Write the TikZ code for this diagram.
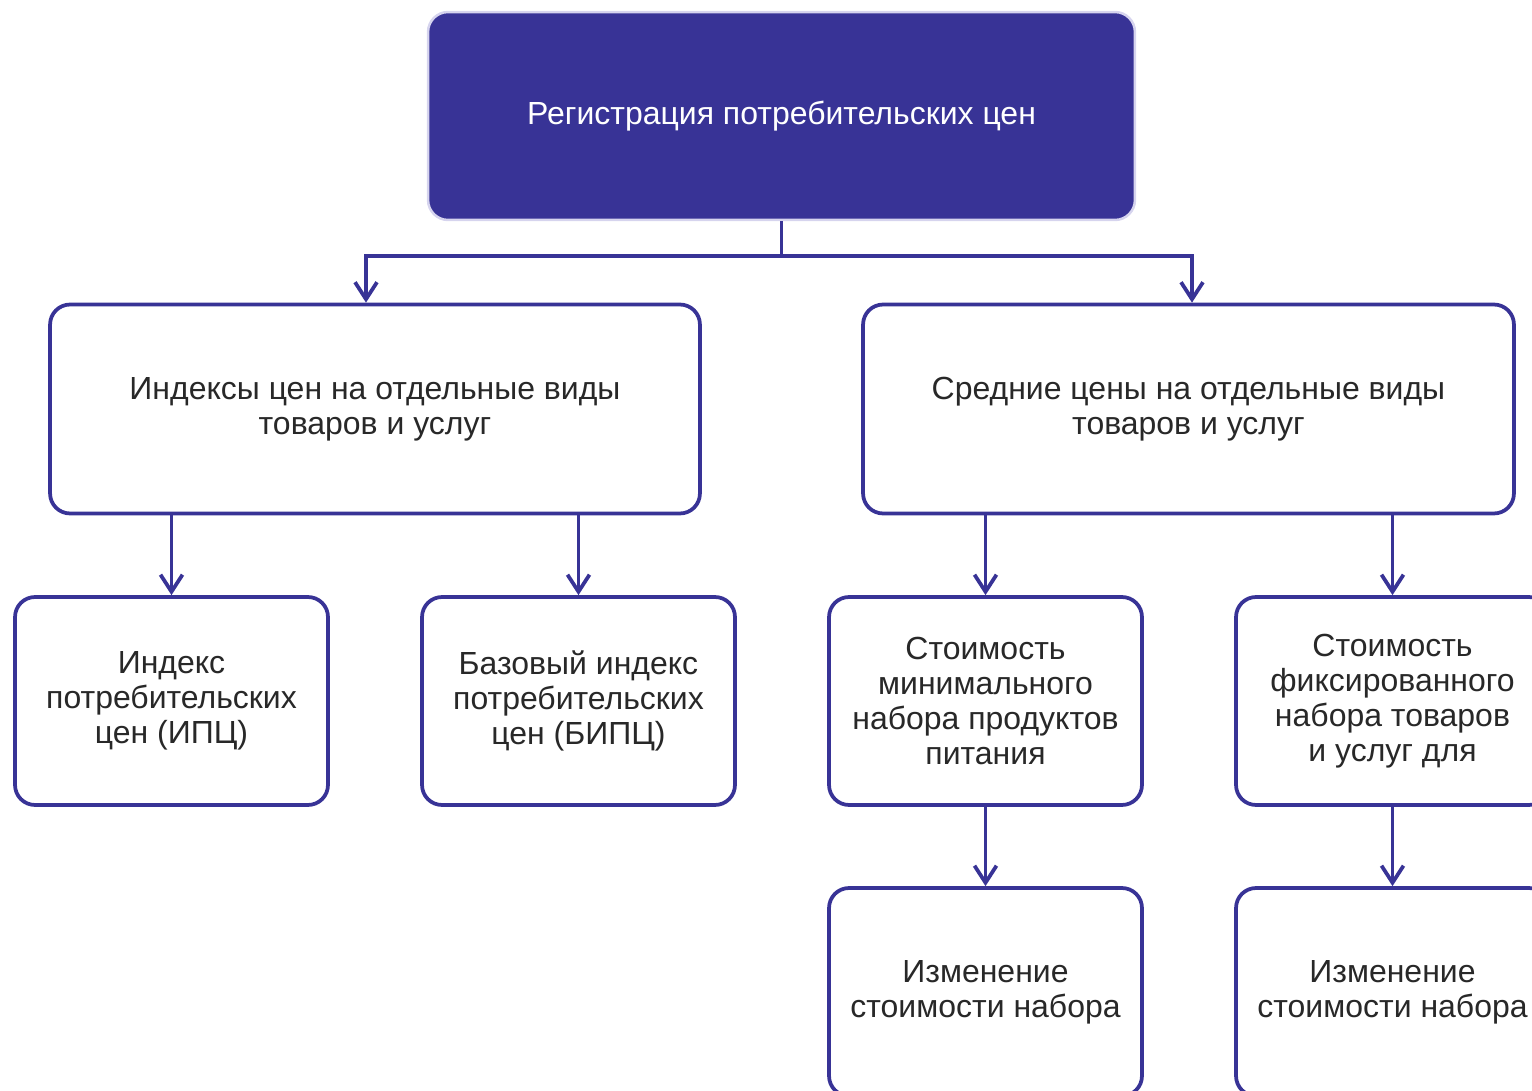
\documentclass[tikz,border=0pt]{standalone}
\usepackage{fontspec}
\setmainfont{Liberation Sans}
\usetikzlibrary{arrows.meta}
\definecolor{cpiblue}{RGB}{56,51,150}
\definecolor{cpirim}{RGB}{214,212,238}
\definecolor{cpitext}{RGB}{40,40,40}
\begin{document}
\begin{tikzpicture}[x=0.02cm, y=-0.02cm,
    box/.style={draw=cpiblue, line width=0.075cm, rounded corners=0.4cm, fill=white,
        align=center, text=cpitext, inner sep=0pt,
        font=\fontsize{18.2}{19.8}\selectfont},
    headbox/.style={box, fill=cpiblue, draw=cpirim, line width=0.05cm, text=white},
    flow/.style={draw=cpiblue, line width=0.075cm, -{Straight Barb[length=0.34cm, width=0.44cm, line width=0.075cm]}}
]
    \clip (0,0) rectangle (1532,1091);

    % Top box
    \node[headbox, minimum width=14.14cm, minimum height=4.16cm] (reg) at (781.5,116)
        {Регистрация потребительских цен};

    % Second row
    \node[box, minimum width=13cm, minimum height=4.18cm] (idx) at (375,409)
        {Индексы цен на отдельные виды\\товаров и услуг};
    \node[box, minimum width=13.02cm, minimum height=4.18cm] (avg) at (1188.5,409)
        {Средние цены на отдельные виды\\товаров и услуг};

    % Third row
    \node[box, minimum width=6.26cm, minimum height=4.16cm] (cpi) at (171.5,701)
        {Индекс\\потребительских\\цен (ИПЦ)};
    \node[box, minimum width=6.26cm, minimum height=4.16cm] (bcpi) at (578.5,701)
        {Базовый индекс\\потребительских\\цен (БИПЦ)};
    \node[box, minimum width=6.26cm, minimum height=4.16cm] (minset) at (985.5,701)
        {Стоимость\\минимального\\набора продуктов\\питания};
    \node[box, minimum width=6.26cm, minimum height=4.16cm] (fixset) at (1392.5,701)
        {Стоимость\\фиксированного\\набора товаров\\и услуг для};

    % Fourth row
    \node[box, minimum width=6.26cm, minimum height=4.16cm] (minchg) at (985.5,992)
        {Изменение\\стоимости набора};
    \node[box, minimum width=6.26cm, minimum height=4.16cm] (fixchg) at (1392.5,992)
        {Изменение\\стоимости набора};

    % Connectors
    \coordinate (split) at (781.5,256);
    \draw[flow] (reg.south) -- (split) -| ([xshift=-0.18cm]idx.north);
    \draw[flow] (split) -| ([xshift=0.07cm]avg.north);
    \draw[flow] (idx.south -| cpi) -- (cpi.north);
    \draw[flow] (idx.south -| bcpi) -- (bcpi.north);
    \draw[flow] (avg.south -| minset) -- (minset.north);
    \draw[flow] (avg.south -| fixset) -- (fixset.north);
    \draw[flow] (minset.south) -- (minchg.north);
    \draw[flow] (fixset.south) -- (fixchg.north);

\end{tikzpicture}
\end{document}
